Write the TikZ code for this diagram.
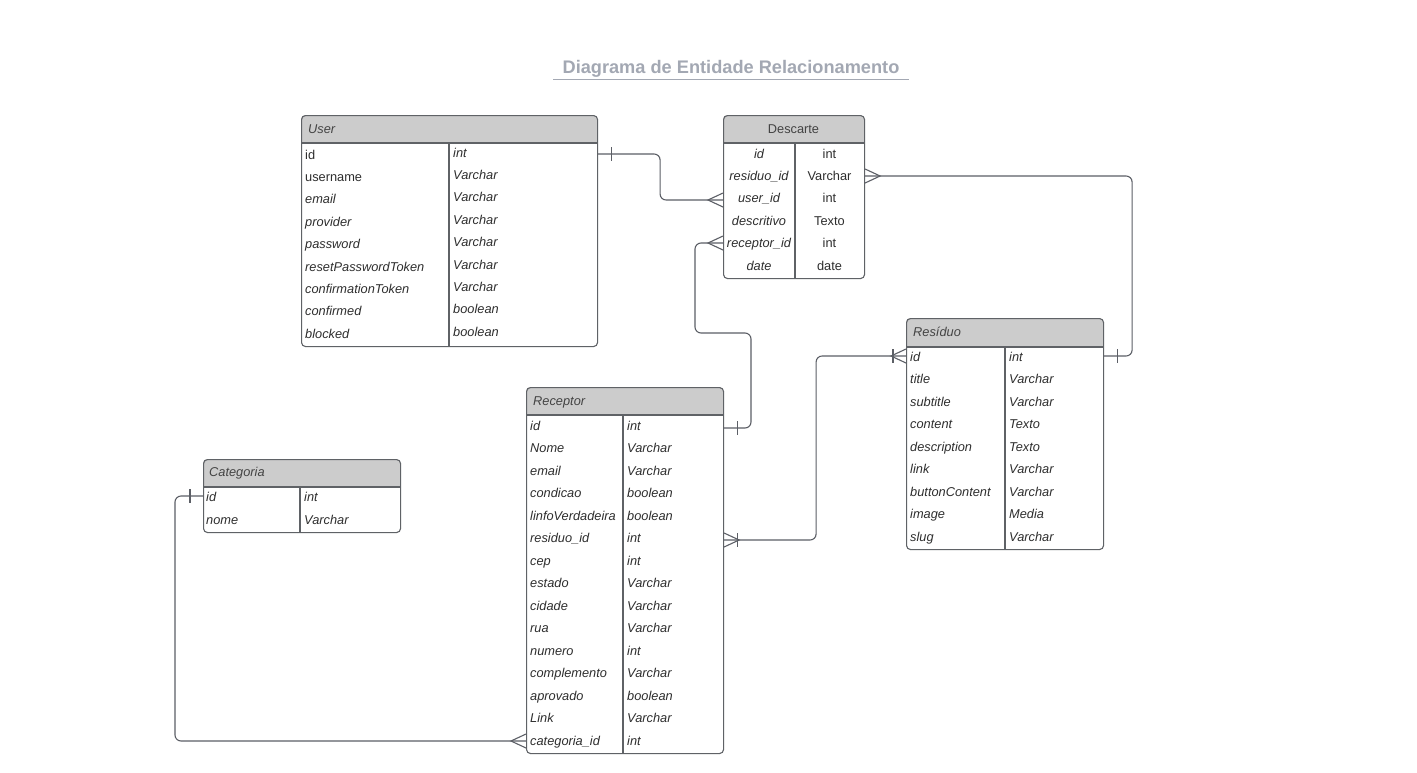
\documentclass[tikz,border=0pt]{standalone}
\usepackage{fontspec}
\setmainfont{Liberation Sans}
\definecolor{hdrfill}{HTML}{CCCCCC}
\definecolor{framec}{HTML}{5F6266}
\definecolor{connc}{HTML}{5C5F66}
\definecolor{txtc}{HTML}{2E2E2E}
\definecolor{titlec}{HTML}{A3A8B3}
\tikzset{
  frame/.style={draw=framec, line width=1.1pt, rounded corners=4pt, inner sep=0pt, fill=none},
  frameline/.style={draw=framec, line width=1.1pt},
  cell/.style={inner sep=0pt, text=txtc, font=\fontsize{12.8}{15}\selectfont\itshape},
  ccell/.style={cell, anchor=mid},
  hdrtxt/.style={inner sep=0pt, text=txtc!90!white, font=\fontsize{12.8}{15}\selectfont\itshape},
  conn/.style={draw=connc, line width=1.1pt},
  crowmany/.pic={\draw[conn] (0,-7) -- (15,0) -- (0,7);},
  crowone/.pic={\draw[conn] (13,-7) -- (13,7);},
}
\newcommand\ertab[7]{%
  \begin{scope}
    \clip[rounded corners=4pt] (#2,#3) rectangle (#4,#6);
    \fill[hdrfill] (#2,#3) rectangle (#4,#5);
  \end{scope}
  \node[frame, anchor=north west, minimum width=#4-#2, minimum height=#6-#3] (#1) at (#2,#3) {};
  \draw[frameline] (#2,#5) -- (#4,#5);
  \draw[frameline] (#7,#5) -- (#7,#6);
}
\begin{document}
\begin{tikzpicture}[x=1pt,y=-1pt]
\useasboundingbox (0,0) rectangle (1417,772);
\fill[white] (0,0) rectangle (1417,772);

% title
\node[inner sep=0pt, text=titlec, font=\fontsize{18.2}{22}\selectfont\bfseries] (title) at (731,68.5) {Diagrama de Entidade Relacionamento};
\draw[titlec, line width=1.3pt] (553,79.5) -- (909,79.5);

% ---------- User ----------
\ertab{user}{301}{115}{597}{143}{346}{449}
\node[hdrtxt, anchor=mid west] (user-h) at (308,131) {User};
\foreach \k/\t [count=\i] in {{\upshape id}/int, {\upshape username}/Varchar, email/Varchar, provider/Varchar, password/Varchar, resetPasswordToken/Varchar, confirmationToken/Varchar, confirmed/boolean, blocked/boolean}{
  \pgfmathsetmacro\yy{156.5+(\i-1)*22.4}
  \node[cell, anchor=mid west] (user-k\i) at (305,\yy) {\k};
  \node[cell, anchor=mid west] (user-t\i) at (453,\yy-2) {\t};
}

% ---------- Descarte ----------
\ertab{descarte}{723}{115}{864}{143}{278}{795}
\node[hdrtxt, anchor=mid, font=\fontsize{12.8}{15}\selectfont\upshape] (descarte-h) at (793.5,131) {Descarte};
\foreach \k/\t [count=\i] in {id/int, residuo\_id/Varchar, user\_id/int, descritivo/Texto, receptor\_id/int, date/date}{
  \pgfmathsetmacro\yy{155.5+(\i-1)*22.4}
  \node[ccell] (descarte-k\i) at (759,\yy) {\k};
  \node[ccell, font=\fontsize{12.8}{15}\selectfont\upshape] (descarte-t\i) at (829.5,\yy) {\t};
}

% ---------- Residuo ----------
\ertab{residuo}{906}{318}{1103}{347}{549}{1005}
\node[hdrtxt, anchor=mid west] (residuo-h) at (913,334) {Resíduo};
\foreach \k/\t [count=\i] in {id/int, title/Varchar, subtitle/Varchar, content/Texto, description/Texto, link/Varchar, buttonContent/Varchar, image/Media, slug/Varchar}{
  \pgfmathsetmacro\yy{358.5+(\i-1)*22.5}
  \node[cell, anchor=mid west] (residuo-k\i) at (910,\yy) {\k};
  \node[cell, anchor=mid west] (residuo-t\i) at (1009,\yy) {\t};
}

% ---------- Receptor ----------
\ertab{receptor}{526}{387}{723}{415}{753}{623}
\node[hdrtxt, anchor=mid west] (receptor-h) at (533,403) {Receptor};
\foreach \k/\t [count=\i] in {id/int, Nome/Varchar, email/Varchar, condicao/boolean, linfoVerdadeira/boolean, residuo\_id/int, cep/int, estado/Varchar, cidade/Varchar, rua/Varchar, numero/int, complemento/Varchar, aprovado/boolean, Link/Varchar, categoria\_id/int}{
  \pgfmathsetmacro\yy{427.5+(\i-1)*22.5}
  \node[cell, anchor=mid west] (receptor-k\i) at (530,\yy) {\k};
  \node[cell, anchor=mid west] (receptor-t\i) at (627,\yy) {\t};
}

% ---------- Categoria ----------
\ertab{categoria}{203}{459}{400}{487}{532}{300}
\node[hdrtxt, anchor=mid west] (categoria-h) at (209,474) {Categoria};
\foreach \k/\t [count=\i] in {id/int, nome/Varchar}{
  \pgfmathsetmacro\yy{498.5+(\i-1)*23}
  \node[cell, anchor=mid west] (categoria-k\i) at (206,\yy) {\k};
  \node[cell, anchor=mid west] (categoria-t\i) at (304,\yy) {\t};
}

% ---------- connectors ----------
% User.id -- Descarte.user_id
\coordinate (uA) at (user.east |- 0,154);
\coordinate (dB) at (descarte.west |- 0,200);
\draw[conn, rounded corners=6pt] (uA) -- ++(62,0) |- (dB);
\pic at (uA) {crowone};
\pic[xscale=-1] at (dB) {crowmany};

% Descarte.residuo_id -- Residuo.id
\coordinate (dR) at (descarte.east |- 0,176);
\coordinate (rE) at (residuo.east |- 0,356);
\draw[conn, rounded corners=6pt] (dR) -| ([xshift=28pt]rE) -- (rE);
\pic at (dR) {crowmany};
\pic at (rE) {crowone};

% Descarte.receptor_id -- Receptor.id
\coordinate (dC) at (descarte.west |- 0,243);
\coordinate (pE) at (receptor.east |- 0,428);
\draw[conn, rounded corners=6pt] (dC) -- ++(-28,0) -- ++(0,90) -- ++(56,0) |- (pE);
\pic[xscale=-1] at (dC) {crowmany};
\pic at (pE) {crowone};

% Receptor.residuo_id -- Residuo.id
\coordinate (pR) at (receptor.east |- 0,540);
\coordinate (rW) at (residuo.west |- 0,356);
\draw[conn, rounded corners=6pt] (pR) -- ++(92,0) |- (rW);
\pic at (pR) {crowmany};
\pic at (pR) {crowone};
\pic[xscale=-1] at (rW) {crowmany};
\pic[xscale=-1] at (rW) {crowone};

% Categoria.id -- Receptor.categoria_id
\coordinate (cW) at (categoria.west |- 0,496);
\coordinate (pW) at (receptor.west |- 0,741);
\draw[conn, rounded corners=6pt] (cW) -- ++(-28,0) |- (pW);
\pic[xscale=-1] at (cW) {crowone};
\pic[xscale=-1] at (pW) {crowmany};
\end{tikzpicture}
\end{document}
